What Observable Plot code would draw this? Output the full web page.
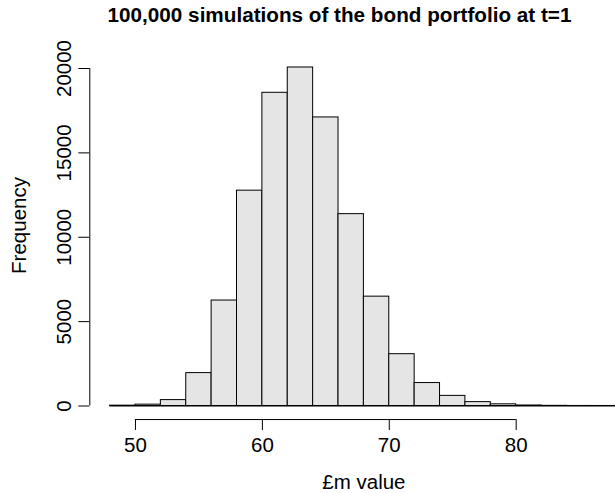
<!DOCTYPE html>
<html>
<head>
<meta charset="utf-8">
<script src="https://cdn.jsdelivr.net/npm/d3@7"></script>
<script src="https://cdn.jsdelivr.net/npm/@observablehq/plot@0.6"></script>
<style>
  body { margin: 0; background: #fff; }
  #wrap { position: relative; width: 615px; height: 493px; font-family: "Liberation Sans", Arial, Helvetica, sans-serif; color: #000; }
  #title { position: absolute; top: 0; left: 339.5px; transform: translateX(-50%); white-space: nowrap;
           font-weight: bold; font-size: 20.7px; line-height: 30px; height: 30px; }
  #chart { position: absolute; top: 30px; left: 0; }
</style>
</head>
<body>
<div id="wrap">
  <div id="title"></div>
  <div id="chart"></div>
</div>
<script>
// Histogram of simulated portfolio values (bins of width 2, £m)
const titleText = "100,000 simulations of the bond portfolio at t=1";
const xLabel = "£m value";
const yLabel = "Frequency";

const binStart = [48, 50, 52, 54, 56, 58, 60, 62, 64, 66, 68, 70, 72, 74, 76, 78, 80, 82, 84, 86];
const binWidth = 2;
const counts   = [20, 80, 350, 1950, 6250, 12760, 18560, 20060, 17100, 11370, 6480, 3070, 1360, 600, 230, 100, 30, 10, 3, 1];

const xTicks = [50, 60, 70, 80];
const yTicks = [0, 5000, 10000, 15000, 20000];

document.getElementById("title").textContent = titleText;

const bins = binStart.map((x0, i) => ({x0, x1: x0 + binWidth, count: counts[i]}));
const lo = binStart[0];
const hi = binStart[binStart.length - 1] + binWidth;
// base-graphics style 4% padding around the data range
const xMin = lo - 0.04 * (hi - lo);
const xMax = hi + 0.04 * (hi - lo);
const xCenter = (xMin + xMax) / 2;
const yAxisAt = -0.04 * d3.max(counts);

const chart = Plot.plot({
  width: 615,
  height: 463,
  marginLeft: 89.3,
  marginRight: 0,
  marginTop: 1,
  marginBottom: 74,
  x: {domain: [xMin, xMax], range: [89.3, 637.5]},
  y: {domain: [0, yTicks[yTicks.length - 1]], range: [375.5, 38]},
  style: {fontFamily: "'Liberation Sans', Arial, Helvetica, sans-serif", fontSize: "20.5px", background: "#fff", color: "#000"},
  marks: [
    Plot.rect(bins, {x1: "x0", x2: "x1", y1: () => 0, y2: "count", fill: "#e5e5e5", stroke: "#000", strokeWidth: 1}),
    Plot.ruleY([0], {x1: () => lo, x2: () => hi, stroke: "#000", strokeWidth: 1}),
    // axis lines spanning the first to last tick
    Plot.ruleX([xMin], {y1: () => yTicks[0], y2: () => yTicks[yTicks.length - 1], stroke: "#000"}),
    Plot.ruleY([yAxisAt], {x1: () => xTicks[0], x2: () => xTicks[xTicks.length - 1], stroke: "#000"}),
    Plot.axisX({ticks: xTicks, tickSize: 11, tickPadding: 7, tickFormat: d => String(d), label: null}),
    Plot.axisY({ticks: yTicks, tickSize: 11, tickFormat: () => "", label: null}),
    // rotated tick labels and axis titles
    Plot.text(yTicks, {y: d => d, frameAnchor: "left", dx: -25.8, rotate: -90, textAnchor: "middle", lineAnchor: "middle", text: d => String(d)}),
    Plot.text([yLabel], {frameAnchor: "left", dx: -70.3, rotate: -90, textAnchor: "middle", lineAnchor: "middle"}),
    Plot.text([xCenter], {x: d => d, frameAnchor: "bottom", dy: 69, textAnchor: "middle", lineAnchor: "bottom", text: () => xLabel})
  ]
});
document.getElementById("chart").append(chart);
</script>
</body>
</html>
